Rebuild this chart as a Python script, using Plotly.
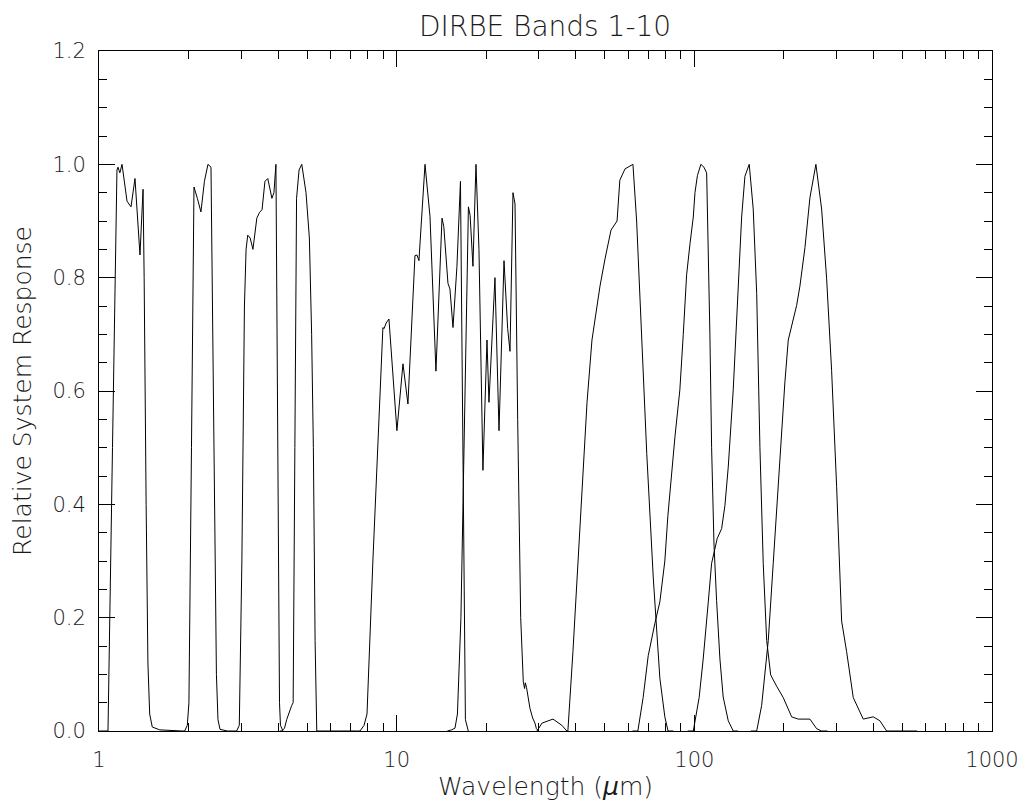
import plotly.graph_objects as go

# ---- data (wavelength in micron, relative system response) ----
band1_wl = [1.00, 1.072, 1.11, 1.149, 1.158, 1.175, 1.195, 1.242, 1.261, 1.281, 1.321, 1.342, 1.373, 1.406,
            1.418, 1.44, 1.46, 1.48, 1.51, 1.60, 1.90]
band1_resp = [0.0, 0.0, 0.5, 0.99, 0.995, 0.985, 1.0, 0.935, 0.93, 0.925, 0.975, 0.92, 0.84, 0.956,
              0.8, 0.4, 0.12, 0.03, 0.007, 0.002, 0.0]

band2_wl = [1.90, 1.94, 1.98, 2.005, 2.045, 2.085, 2.14, 2.20, 2.26, 2.323, 2.378, 2.415, 2.453, 2.48, 2.51, 2.55, 2.70]
band2_resp = [0.0, 0.0, 0.01, 0.05, 0.5, 0.96, 0.94, 0.916, 0.97, 1.0, 0.995, 0.7, 0.36, 0.1, 0.02, 0.003, 0.0]

band3_wl = [2.70, 2.90, 2.96, 3.02, 3.08, 3.12, 3.16, 3.22, 3.29, 3.39, 3.46, 3.53, 3.61, 3.69, 3.81, 3.87,
            3.93, 3.97, 4.00, 4.04, 4.07, 4.15]
band3_resp = [0.0, 0.0, 0.01, 0.3, 0.75, 0.85, 0.875, 0.87, 0.85, 0.905, 0.915, 0.92, 0.97, 0.975, 0.94, 0.95,
              1.0, 0.6, 0.3, 0.05, 0.01, 0.0]

band4_wl = [4.05, 4.11, 4.20, 4.27, 4.44, 4.49, 4.55, 4.61, 4.70, 4.80, 4.96, 5.09, 5.18, 5.25, 5.32, 5.39, 7.40]
band4_resp = [0.0, 0.0, 0.005, 0.02, 0.045, 0.05, 0.5, 0.94, 0.99, 1.0, 0.95, 0.87, 0.7, 0.5, 0.16, 0.0, 0.0]

band5_wl = [7.40, 7.53, 7.77, 7.95, 8.32, 8.65, 8.99, 9.07, 9.22, 9.42, 9.72, 10.02, 10.50, 10.91, 11.52, 11.70,
            11.88, 12.45, 12.94, 13.55, 14.20, 14.40, 14.87, 15.10, 15.46, 15.94, 16.38, 16.70, 17.02, 17.40]
band5_resp = [0.0, 0.0, 0.01, 0.03, 0.30, 0.52, 0.712, 0.71, 0.72, 0.727, 0.635, 0.53, 0.648, 0.577, 0.839, 0.84,
              0.83, 1.0, 0.908, 0.635, 0.905, 0.89, 0.79, 0.78, 0.712, 0.82, 0.97, 0.5, 0.02, 0.0]

band6_wl = [14.8, 15.3, 15.7, 16.0, 16.44, 16.9, 17.42, 17.65, 18.04, 18.47, 18.9, 19.49, 20.11, 20.42, 21.39,
            22.07, 22.94, 23.6, 24.03, 24.59, 24.98, 25.5, 26.1, 26.63, 26.9, 27.05, 27.3, 28.04, 28.63, 29.14,
            29.48, 30.0]
band6_resp = [0.0, 0.002, 0.005, 0.03, 0.2, 0.55, 0.925, 0.91, 0.82, 1.0, 0.85, 0.46, 0.69, 0.58, 0.80,
              0.53, 0.83, 0.71, 0.67, 0.95, 0.93, 0.55, 0.2, 0.087, 0.075, 0.085, 0.077, 0.04, 0.023, 0.014,
              0.004, 0.0]

band7_wl = [29.6, 30.8, 33.5, 35.9, 37.3, 37.6, 39.1, 41.3, 43.6, 45.3, 46.4, 48.2, 50.1, 52.5, 55.0, 56.2,
            58.5, 62.2, 64.0, 65.7, 69.2, 72.8, 74.7, 76.6, 79.6, 81.6, 85.0]
band7_resp = [0.0, 0.014, 0.021, 0.01, 0.0, 0.0, 0.14, 0.37, 0.58, 0.69, 0.73, 0.785, 0.833, 0.884, 0.9, 0.972,
              0.992, 1.0, 0.9, 0.77, 0.49, 0.27, 0.17, 0.093, 0.025, 0.0, 0.0]

band8_wl = [62.0, 64.6, 67.3, 70.0, 73.7, 76.6, 79.6, 81.5, 86.1, 89.4, 91.8, 94.2, 96.7, 99.2, 100.5, 102.4,
            105.2, 107.7, 110.0, 111.5, 112.8, 114.3, 116.4, 118.8, 121.9, 125.0, 130.0, 135.1, 140.0]
band8_resp = [0.0, 0.0, 0.059, 0.133, 0.19, 0.228, 0.3, 0.38, 0.52, 0.602, 0.70, 0.805, 0.86, 0.907, 0.95, 0.98,
              1.0, 0.995, 0.985, 0.84, 0.7, 0.5, 0.33, 0.23, 0.127, 0.06, 0.018, 0.0, 0.0]

band9_wl = [95.0, 99.2, 103.8, 107.1, 111.4, 114.3, 119.4, 123.5, 126.7, 130.0, 135.1, 140.4, 144.2, 147.9, 152.9,
            157.7, 162.0, 166.1, 170.4, 175.0, 180.5, 189.0, 198.9, 212.3, 223.4, 244.5, 257.6, 267.7, 280.0]
band9_resp = [0.0, 0.0, 0.059, 0.127, 0.228, 0.296, 0.34, 0.357, 0.398, 0.466, 0.602, 0.772, 0.907, 0.979, 1.0,
              0.921, 0.772, 0.5, 0.296, 0.16, 0.099, 0.079, 0.059, 0.025, 0.021, 0.021, 0.004, 0.0, 0.0]

band10_wl = [155.0, 162.0, 168.3, 177.2, 184.1, 191.3, 196.4, 201.5, 206.8, 213.9, 220.6, 226.3, 235.3, 244.5,
             256.1, 267.7, 278.2, 289.2, 300.6, 312.5, 324.8, 341.9, 359.9, 369.3, 399.0, 420.2, 442.5, 560.0]
band10_resp = [0.0, 0.0, 0.045, 0.16, 0.296, 0.432, 0.534, 0.616, 0.69, 0.724, 0.751, 0.785, 0.853, 0.941,
               1.0, 0.921, 0.799, 0.636, 0.432, 0.194, 0.14, 0.059, 0.032, 0.021, 0.025, 0.018, 0.0, 0.0]

bands = [
    (band1_wl, band1_resp), (band2_wl, band2_resp), (band3_wl, band3_resp), (band4_wl, band4_resp),
    (band5_wl, band5_resp), (band6_wl, band6_resp), (band7_wl, band7_resp), (band8_wl, band8_resp),
    (band9_wl, band9_resp), (band10_wl, band10_resp),
]

x_major = [1, 10, 100, 1000]
x_major_text = ["1", "10", "100", "1000"]
x_minor = [m * 10 ** d for d in range(3) for m in range(2, 10)]
y_major = [0.0, 0.2, 0.4, 0.6, 0.8, 1.0, 1.2]
y_major_text = ["0.0", "0.2", "0.4", "0.6", "0.8", "1.0", "1.2"]

FONT = "DejaVu Sans"
WEIGHT = 200
TXT = "#1a1a1a"

# the page body has an 8px margin, so the figure is drawn 8px right/down
W, H = 1021, 803
OFF = 8

fig = go.Figure()
for i, (wl, resp) in enumerate(bands):
    fig.add_trace(go.Scatter(x=wl, y=resp, mode="lines", name=f"Band {i+1}",
                             line=dict(color="black", width=1), showlegend=False,
                             hoverinfo="x+y"))

fig.update_layout(
    width=W, height=H,
    margin=dict(l=99 - OFF, r=37, t=51 - OFF, b=80, autoexpand=False),
    paper_bgcolor="white", plot_bgcolor="white",
    font=dict(family=FONT, color=TXT, size=21, weight=WEIGHT),
    title=dict(text="DIRBE Bands 1-10", x=(545 - OFF) / W, xanchor="center",
               y=1, yanchor="top", yref="container", pad=dict(t=8, b=0, l=0, r=0),
               font=dict(family=FONT, size=28, color=TXT, weight=WEIGHT)),
    showlegend=False,
)

fig.update_xaxes(
    type="log", range=[0, 3], automargin=False,
    showline=True, linecolor="black", linewidth=1, mirror="allticks",
    ticks="inside", ticklen=16, tickwidth=1, tickcolor="black",
    tickvals=x_major, ticktext=x_major_text,
    tickfont=dict(family=FONT, size=21, color=TXT, weight=WEIGHT),
    ticklabelstandoff=10,
    minor=dict(tickvals=x_minor, ticks="inside", ticklen=8, tickwidth=1, tickcolor="black", showgrid=False),
    showgrid=False, zeroline=False,
    title=dict(text="Wavelength (<i>μ</i>m)", font=dict(family=FONT, size=25, color=TXT, weight=WEIGHT),
               standoff=6),
)
fig.update_yaxes(
    range=[0, 1.2], automargin=False,
    showline=True, linecolor="black", linewidth=1, mirror="allticks",
    ticks="inside", ticklen=16, tickwidth=1, tickcolor="black",
    tickvals=y_major, ticktext=y_major_text,
    tickfont=dict(family=FONT, size=21, color=TXT, weight=WEIGHT),
    ticklabelstandoff=8,
    minor=dict(dtick=0.05, tick0=0, ticks="inside", ticklen=8, tickwidth=1, tickcolor="black", showgrid=False),
    showgrid=False, zeroline=False,
    title=dict(text="Relative System Response", font=dict(family=FONT, size=25, color=TXT, weight=WEIGHT),
               standoff=18),
)

fig.write_html("out.html")
